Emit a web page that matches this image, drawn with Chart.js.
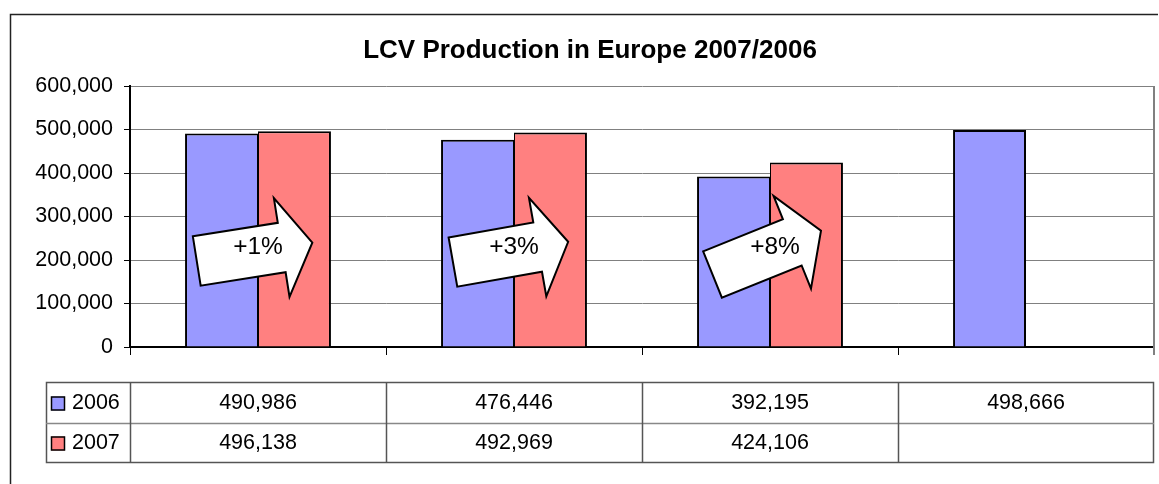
<!DOCTYPE html>
<html><head><meta charset="utf-8">
<script src="https://cdn.jsdelivr.net/npm/chart.js@4.4.0/dist/chart.umd.min.js"></script>
<style>html,body{margin:0;padding:0;background:#fff;overflow:hidden;} #wrap{width:1159px;height:484px;position:relative;}</style>
</head><body><div id="wrap"><canvas id="c" width="1159" height="484"></canvas></div>
<script>
const categories = ['', '', '', ''];
const seriesNames = ['2006', '2007'];
const values2006 = [490986, 476446, 392195, 498666];
const values2007 = [496138, 492969, 424106, null];
const yTicks = [0, 100000, 200000, 300000, 400000, 500000, 600000];
const changeLabels = ['+1%', '+3%', '+8%'];
const arrowAngles = [-9, -10, -22];
const chartTitle = 'LCV Production in Europe 2007/2006';
const seriesColors = ['#9999FF', '#FF8080'];

const FONT = '"Liberation Sans", Arial, sans-serif';
const fmt = v => v.toLocaleString('en-US');

const decor = {
  id: 'decor',
  beforeDraw(chart) {
    const ctx = chart.ctx;
    ctx.save();
    ctx.fillStyle = '#fff';
    ctx.fillRect(0, 0, chart.width, chart.height);
    ctx.strokeStyle = '#222';
    ctx.lineWidth = 1.5;
    ctx.beginPath();
    ctx.moveTo(10.5, chart.height);
    ctx.lineTo(10.5, 14.5);
    ctx.lineTo(1158, 14.5);
    ctx.stroke();
    ctx.fillStyle = '#000';
    ctx.font = 'bold 26px ' + FONT;
    ctx.textAlign = 'center';
    ctx.textBaseline = 'middle';
    ctx.fillText(chartTitle, 590, 51);
    ctx.restore();
  },
  afterDatasetsDraw(chart) {
    const ctx = chart.ctx;
    const xs = chart.scales.x, ys = chart.scales.y;
    const a = chart.chartArea;
    ctx.save();
    ctx.strokeStyle = '#808080';
    ctx.lineWidth = 2;
    ctx.beginPath();
    ctx.moveTo(a.right, a.top);
    ctx.lineTo(a.right, a.bottom + 8);
    ctx.stroke();
    const shape = [[-62,-25],[24,-25],[24,-50],[55,0],[24,50],[24,25],[-62,25]];
    changeLabels.forEach((lab, i) => {
      const cx = xs.getPixelForValue(i);
      const cy = ys.getPixelForValue(220000);
      const t = arrowAngles[i] * Math.PI / 180;
      const c = Math.cos(t), s = Math.sin(t);
      ctx.beginPath();
      shape.forEach(([px, py], k) => {
        const X = cx + px * c - py * s;
        const Y = cy + px * s + py * c;
        if (k === 0) ctx.moveTo(X, Y); else ctx.lineTo(X, Y);
      });
      ctx.closePath();
      ctx.fillStyle = '#fff';
      ctx.fill();
      ctx.strokeStyle = '#000';
      ctx.lineWidth = 2;
      ctx.lineJoin = 'miter';
      ctx.stroke();
      ctx.fillStyle = '#000';
      ctx.font = '24.5px ' + FONT;
      ctx.textAlign = 'center';
      ctx.textBaseline = 'middle';
      ctx.fillText(lab, cx + (i === 2 ? 5 : 0), cy - 4);
    });
    ctx.restore();
  },
  afterDraw(chart) {
    const ctx = chart.ctx;
    const xs = chart.scales.x;
    const a = chart.chartArea;
    const step = (a.right - a.left) / categories.length;
    const top = 382, mid = 423, bot = 462, left = 46;
    const rows = [values2006, values2007];
    ctx.save();
    ctx.lineWidth = 1.5;
    ctx.strokeStyle = '#555';
    ctx.strokeRect(left + 0.5, top + 0.5, a.right - left - 1, bot - top);
    ctx.strokeStyle = '#888';
    ctx.beginPath();
    ctx.moveTo(left, mid + 0.5); ctx.lineTo(a.right, mid + 0.5);
    ctx.stroke();
    ctx.strokeStyle = '#555';
    ctx.beginPath();
    for (let i = 0; i < categories.length; i++) {
      const x = Math.round(a.left + i * step) + 0.5;
      ctx.moveTo(x, top); ctx.lineTo(x, bot);
    }
    ctx.stroke();
    ctx.font = '21.5px ' + FONT;
    ctx.textBaseline = 'middle';
    rows.forEach((vals, r) => {
      const yc = r === 0 ? (top + mid) / 2 + 1 : (mid + bot) / 2 + 1;
      ctx.fillStyle = seriesColors[r];
      ctx.fillRect(51, yc - 7, 14, 14);
      ctx.strokeStyle = '#000';
      ctx.lineWidth = 1.5;
      ctx.strokeRect(51.5, yc - 6.5, 13, 13);
      ctx.fillStyle = '#000';
      ctx.textAlign = 'left';
      ctx.fillText(seriesNames[r], 72, yc);
      ctx.textAlign = 'center';
      vals.forEach((v, i) => {
        if (v == null) return;
        ctx.fillText(fmt(v), xs.getPixelForValue(i), yc);
      });
    });
    ctx.restore();
  }
};

new Chart(document.getElementById('c'), {
  type: 'bar',
  data: {
    labels: categories,
    datasets: [
      { label: seriesNames[0], data: values2006, backgroundColor: seriesColors[0], borderColor: '#000',
        borderWidth: c => ({ top: 2, left: 2, right: values2007[c.dataIndex] == null ? 2 : 1, bottom: 0 }) },
      { label: seriesNames[1], data: values2007, backgroundColor: seriesColors[1], borderColor: '#000',
        borderWidth: { top: 2, left: 1, right: 2, bottom: 0 } }
    ]
  },
  options: {
    responsive: false,
    animation: false,
    devicePixelRatio: 1,
    layout: { padding: { top: 86, right: 5, bottom: 0, left: 0 } },
    datasets: { bar: { categoryPercentage: 0.57, barPercentage: 1.0 } },
    plugins: { legend: { display: false }, title: { display: false }, tooltip: { enabled: false } },
    scales: {
      x: {
        ticks: { display: false },
        grid: { offset: true, drawOnChartArea: false, drawTicks: true, tickLength: 8, color: '#000', tickColor: '#000', lineWidth: 1 },
        border: { display: true, color: '#000', width: 2 },
        afterFit(s) { s.height = 137; }
      },
      y: {
        min: 0, max: 600000,
        afterBuildTicks(s) { s.ticks = yTicks.map(v => ({ value: v })); },
        ticks: { callback: v => fmt(v), color: '#000', font: { family: FONT, size: 21.5 }, padding: 11 },
        grid: { color: '#808080', lineWidth: 1, tickLength: 6, tickColor: '#000' },
        border: { display: true, color: '#000', width: 2 },
        afterFit(s) { s.width = 130; }
      }
    }
  },
  plugins: [decor]
});
</script>
</body></html>
